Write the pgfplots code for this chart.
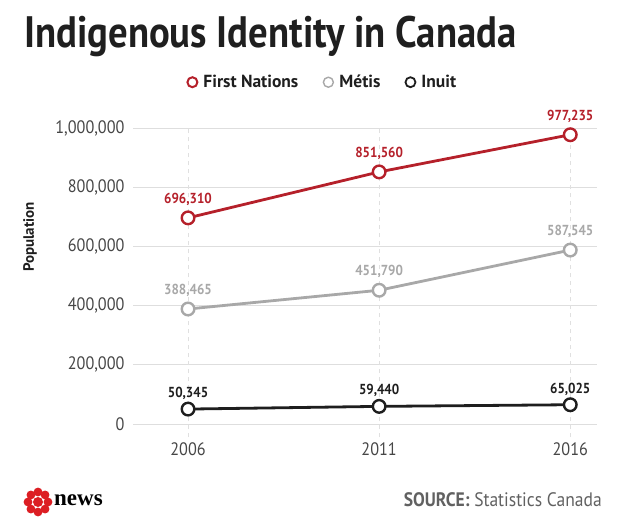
\documentclass[border=0pt]{standalone}
\usepackage{fontspec}
\setmainfont{PT Sans}[FakeStretch=0.9]
\newfontfamily\plainfont{PT Sans}
\newfontfamily\titlefont{PT Sans Bold}[FakeStretch=0.88]
\newfontfamily\serifbold{Liberation Serif Bold}
\usepackage{pgfplots}
\pgfplotsset{compat=1.18}
\definecolor{fnred}{RGB}{181,32,42}
\definecolor{megray}{RGB}{168,168,168}
\definecolor{inblack}{RGB}{30,30,30}
\definecolor{ticktxt}{RGB}{70,70,70}
\definecolor{cbcred}{RGB}{220,30,35}
\pgfplotstableread{
x y label
2006 696310 {696,310}
2011 851560 {851,560}
2016 977235 {977,235}
}\fn
\pgfplotstableread{
x y label
2006 388465 {388,465}
2011 451790 {451,790}
2016 587545 {587,545}
}\me
\pgfplotstableread{
x y label
2006 50345 {50,345}
2011 59440 {59,440}
2016 65025 {65,025}
}\inu
\begin{document}
\begin{tikzpicture}[x=1pt,y=1pt]
\path (0,0) rectangle (620,526);
% title
\node[anchor=base west, inner sep=0pt, font=\titlefont\fontsize{44}{44}\selectfont, text=black!88] at (24,526-48) {Indigenous Identity in Canada};
\begin{axis}[
  at={(133pt,88.7pt)}, anchor=south west,
  scale only axis, width=464pt, height=309.3pt,
  xmin=2004.56, xmax=2016.7, ymin=-45000, ymax=1000000,
  axis line style={draw=none},
  tick style={draw=none},
  scaled y ticks=false,
  clip=false,
  xtick={2006,2011,2016},
  xticklabels={2006,2011,2016},
  ytick={0,200000,400000,600000,800000,1000000},
  yticklabels={0,{200,000},{400,000},{600,000},{800,000},{1,000,000}},
  ticklabel style={font=\fontsize{18}{18}\selectfont, text=ticktxt},
  yticklabel style={xshift=-5pt},
  xticklabel style={yshift=-2pt},
  major tick length=0pt,
  ylabel={\textbf{Population}},
  ylabel style={font=\plainfont\fontsize{15}{15}\selectfont, text=inblack, at={(axis description cs:-0.222,0.648)}, anchor=center, rotate=0},
  legend style={draw=none, fill=none, at={(axis description cs:0.408,1.148)}, anchor=center,
     font=\plainfont\bfseries\fontsize{17.5}{17.5}\selectfont, text=inblack,
     /tikz/every even column/.append style={column sep=22pt}},
  legend columns=3,
  legend cell align=left,
  nodes near coords,
  point meta=explicit symbolic,
  every node near coord/.append style={font=\bfseries\fontsize{14.5}{14.5}\selectfont, anchor=south, yshift=8pt},
]
% gridlines
\foreach \yy in {0,200000,400000,600000,800000,1000000}{
  \edef\tmp{\noexpand\draw[black!13, line width=0.8pt] (axis cs:2004.56,\yy) -- (axis cs:2016.7,\yy);}\tmp
}
\foreach \xx in {2006,2011,2016}{
  \edef\tmp{\noexpand\draw[black!12, line width=0.7pt, dash pattern=on 4pt off 4pt] (axis cs:\xx,-45000) -- (axis cs:\xx,1000000);}\tmp
}
\addplot[color=fnred, line width=2.8pt, mark=*, mark size=6.3pt, mark options={fill=white, line width=2.4pt},
  legend image code/.code={\path[draw=none] (-6pt,0pt) -- (9pt,0pt); \draw[fnred, line width=2pt, fill=white] (0pt,0pt) circle (5pt);},
  every node near coord/.append style={text=fnred}] table[x=x,y=y,meta=label] {\fn};
\addlegendentry{First Nations}
\addplot[color=megray, line width=2.8pt, mark=*, mark size=6.3pt, mark options={fill=white, line width=2.4pt},
  legend image code/.code={\path[draw=none] (-6pt,0pt) -- (9pt,0pt); \draw[megray, line width=1.4pt, fill=white] (0pt,0pt) circle (5pt);},
  every node near coord/.append style={text=megray}] table[x=x,y=y,meta=label] {\me};
\addlegendentry{Métis}
\addplot[color=inblack, line width=2.8pt, mark=*, mark size=6.3pt, mark options={fill=white, line width=2.4pt},
  legend image code/.code={\path[draw=none] (-6pt,0pt) -- (9pt,0pt); \draw[inblack, line width=1.8pt, fill=white] (0pt,0pt) circle (5pt);},
  every node near coord/.append style={text=inblack, yshift=-3pt}] table[x=x,y=y,meta=label] {\inu};
\addlegendentry{Inuit}
\end{axis}
% footer: CBC logo
\begin{scope}[shift={(38,526-502)}]
  \fill[cbcred] (0,0) circle (5);
  \foreach \a in {0,45,...,315}{
    \fill[cbcred, rotate=\a] (0,10) circle (4.4);
  }
\end{scope}
\node[anchor=west, inner sep=0pt, font=\serifbold\fontsize{23}{23}\selectfont, text=black] at (54,526-500) {news};
\node[anchor=east, inner sep=0pt, font=\fontsize{19.5}{19.5}\selectfont, text=black!62] at (602,526-500) {\textbf{SOURCE:} Statistics Canada};
\end{tikzpicture}
\end{document}
